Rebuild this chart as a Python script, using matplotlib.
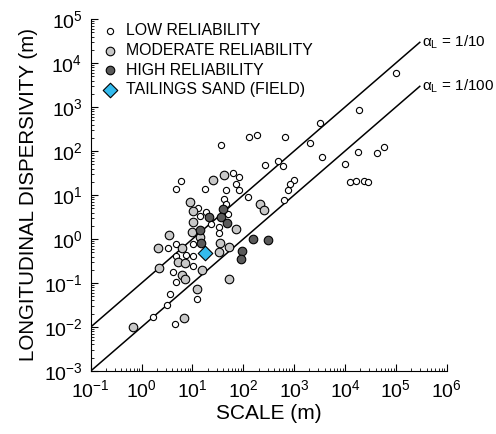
import matplotlib
matplotlib.use("Agg")
import matplotlib.pyplot as plt
from matplotlib.ticker import LogLocator, NullFormatter

plt.rcParams['font.family'] = ['Liberation Sans', 'DejaVu Sans']
plt.rcParams['mathtext.fontset'] = 'custom'
plt.rcParams['mathtext.rm'] = 'Liberation Sans'
plt.rcParams['mathtext.it'] = 'Liberation Sans:italic'

# low reliability (open circles)
low_x = [1.0e5, 18400, 3200, 182, 129, 36, 662, 2010, 58600, 42800, 18100, 3550,
         9900, 479, 592, 262, 63, 83, 71, 81, 45, 121, 1000, 813, 762, 620,
         12800, 16800, 23400, 28400, 5.9, 4.8, 17.8, 42, 46.6, 13.1, 18.2, 14.2,
         49, 22.8, 33.7, 33.7, 4.8, 3.35, 10.2, 4.7, 7.3, 10.2, 10.4, 4.2, 4.7,
         3.66, 3.1, 1.67, 4.6, 12]
low_y = [6000, 840, 433, 237, 203, 135, 208, 155, 125, 89, 95, 72,
         51, 58, 46, 48, 32, 25.7, 18, 12.8, 12.8, 9.0, 21.6, 17.5, 12.8, 7.5,
         19.5, 20.5, 20.5, 19.7, 21.1, 13.6, 13.7, 8.1, 6.2, 5.0, 4.1, 3.3,
         3.7, 2.2, 1.9, 1.37, 0.77, 0.62, 0.77, 0.41, 0.43, 0.41, 0.24, 0.18, 0.104,
         0.056, 0.032, 0.017, 0.0115, 0.043]

# moderate reliability (light grey)
mod_x = [25.6, 41.6, 214, 254, 9.06, 10.2, 10.1, 9.8, 3.4, 2.13, 6.2, 5.2, 7.0,
         2.23, 6.1, 7.0, 15.2, 12.1, 6.8, 0.67, 34, 33.7, 52.6, 70.6, 53, 14.2]
mod_y = [21.4, 29.2, 6.3, 4.6, 7.0, 4.4, 2.43, 1.43, 1.24, 0.615, 0.61, 0.30, 0.29,
         0.22, 0.15, 0.125, 0.2, 0.073, 0.0163, 0.0099, 0.82, 0.50, 0.67, 1.69, 0.122, 1.11]

# high reliability (dark grey)
high_x = [21.1, 40.3, 36.8, 47, 14.2, 14.5, 157, 308, 92.7, 88.5]
high_y = [3.1, 4.85, 3.1, 2.37, 1.6, 0.81, 1.0, 0.93, 0.52, 0.35]

# tailings sand (field)
sand_x = [18]
sand_y = [0.49]

ratios = [0.1, 0.01]
ratio_labels = ['1/10', '1/100']
line_x = [0.1, 2.95e5]

fig = plt.figure(figsize=(4.96, 4.34), dpi=100)
ax = fig.add_axes([0.183, 0.1452, 0.7177, 0.811])

for r, lab in zip(ratios, ratio_labels):
    ly = [r * v for v in line_x]
    ax.plot(line_x, ly, color='black', lw=1.1, zorder=1)
    ax.annotate(r'α$_\mathrm{L}$ = ' + lab, (line_x[1], ly[1]), xytext=(1.5, 0),
                textcoords='offset points', ha='left', va='center', fontsize=11,
                annotation_clip=False)

ax.scatter(low_x, low_y, s=20, facecolor='white', edgecolor='black', lw=0.8,
           zorder=3, label='LOW RELIABILITY')
ax.scatter(mod_x, mod_y, s=38, facecolor='#c8c8c8', edgecolor='black', lw=0.8,
           zorder=3, label='MODERATE RELIABILITY')
ax.scatter(high_x, high_y, s=38, facecolor='#5a5a5a', edgecolor='black', lw=0.8,
           zorder=4, label='HIGH RELIABILITY')
ax.scatter(sand_x, sand_y, s=55, marker='D', facecolor='#33bbee', edgecolor='black',
           lw=0.8, zorder=5, label='TAILINGS SAND (FIELD)')

ax.set_xscale('log')
ax.set_yscale('log')
ax.set_xlim(1e-1, 1e6)
ax.set_ylim(1e-3, 1e5)
ax.set_xticks([10.0 ** k for k in range(-1, 7)])
ax.set_yticks([10.0 ** k for k in range(-3, 6)])
for axis in (ax.xaxis, ax.yaxis):
    axis.set_minor_locator(LogLocator(base=10, subs=range(2, 10), numticks=100))
    axis.set_minor_formatter(NullFormatter())
ax.spines['top'].set_visible(False)
ax.spines['right'].set_visible(False)
ax.tick_params(which='both', direction='in', labelsize=14)
ax.tick_params(which='major', length=5, pad=6)
ax.tick_params(which='minor', length=2.5)
ax.set_xlabel('SCALE (m)', fontsize=15, labelpad=2)
ax.set_ylabel('LONGITUDINAL DISPERSIVITY (m)', fontsize=14.8, labelpad=4)

ax.legend(loc='upper left', bbox_to_anchor=(0.0, 1.02), frameon=False, fontsize=11.4,
          handlelength=1.0, handletextpad=0.5, labelspacing=0.3, borderaxespad=0.3)

fig.savefig('out.png', dpi=100)
